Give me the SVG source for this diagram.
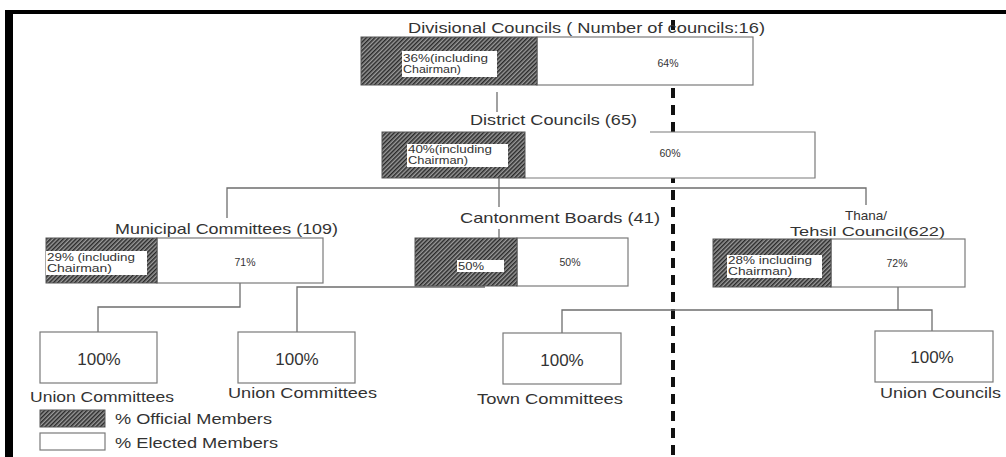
<svg xmlns="http://www.w3.org/2000/svg" width="1006" height="457" viewBox="0 0 1006 457">
<defs>
<pattern id="hatch" width="3" height="3" patternUnits="userSpaceOnUse" patternTransform="rotate(45)">
<rect width="3" height="3" fill="#9a9a9a"/>
<rect width="1.5" height="3" fill="#2a2a2a"/>
</pattern>
<style>
.box{fill:#fff;stroke:#7a7a7a;stroke-width:1.2}
.shade{fill:url(#hatch);stroke:#555;stroke-width:1}
.inner{fill:#fff}
.t{font-family:"Liberation Sans",Arial,sans-serif;fill:#333}
.title{font-size:15px}
.sm{font-size:10.5px}
.big{font-size:17px}
.lab{font-size:15px}
.conn{stroke:#6e6e6e;stroke-width:1.3;fill:none}
.div{stroke:#111;stroke-width:4;stroke-dasharray:10 7;fill:none}
</style>
</defs>
<rect width="1006" height="457" fill="#fff"/>
<g id="frame">
<rect x="5" y="10" width="1001" height="4" fill="#000"/>
<rect x="5" y="10" width="8" height="447" fill="#000"/>
</g>
<g id="divider">
<line class="div" x1="673" y1="20" x2="673" y2="457"/>
</g>
<g id="connectors">
<line class="conn" x1="497" y1="92" x2="497" y2="112"/>
<line class="conn" x1="499" y1="178" x2="499" y2="207"/>
<line class="conn" x1="499" y1="229" x2="499" y2="238"/>
<polyline class="conn" points="227,218 227,188 866,188 866,205"/>
<polyline class="conn" points="240,283 240,307 98,307 98,332"/>
<polyline class="conn" points="485,287 297,287 297,332"/>
<line class="conn" x1="898" y1="287" x2="898" y2="310"/>
<polyline class="conn" points="562,333 562,310 932,310 932,331"/>
</g>
<g id="divisional">
<text class="t title" x="408" y="33" textLength="357" lengthAdjust="spacingAndGlyphs">Divisional Councils ( Number of councils:16)</text>
<rect class="box" x="537" y="37" width="216" height="48"/>
<rect class="shade" x="361" y="37" width="176" height="48"/>
<rect class="inner" x="402" y="51" width="95" height="26"/>
<text class="t sm" x="403" y="62" textLength="85" lengthAdjust="spacingAndGlyphs">36%(including</text>
<text class="t sm" x="403" y="73" textLength="58" lengthAdjust="spacingAndGlyphs">Chairman)</text>
<text class="t sm" x="668" y="67" text-anchor="middle">64%</text>
</g>
<g id="district">
<text class="t title" x="470" y="125" textLength="167" lengthAdjust="spacingAndGlyphs">District Councils (65)</text>
<rect x="525" y="132" width="290" height="46" fill="#fff"/>
<path class="box" d="M650,132 H815 V178 H525"/>
<rect class="shade" x="382" y="132" width="143" height="46"/>
<rect class="inner" x="407" y="144" width="101" height="23"/>
<text class="t sm" x="408" y="153" textLength="84" lengthAdjust="spacingAndGlyphs">40%(including</text>
<text class="t sm" x="408" y="164" textLength="60" lengthAdjust="spacingAndGlyphs">Chairman)</text>
<text class="t sm" x="670" y="157" text-anchor="middle">60%</text>
</g>
<g id="municipal">
<text class="t title" x="115" y="234" textLength="223" lengthAdjust="spacingAndGlyphs">Municipal Committees (109)</text>
<rect class="box" x="157" y="238" width="166" height="45"/>
<rect class="shade" x="46" y="238" width="111" height="45"/>
<rect class="inner" x="46" y="251" width="101" height="24"/>
<text class="t sm" x="47" y="261" textLength="88" lengthAdjust="spacingAndGlyphs">29% (including</text>
<text class="t sm" x="47" y="272" textLength="65" lengthAdjust="spacingAndGlyphs">Chairman)</text>
<text class="t sm" x="245" y="266" text-anchor="middle">71%</text>
</g>
<g id="cantonment">
<text class="t title" x="460" y="223" textLength="200" lengthAdjust="spacingAndGlyphs">Cantonment Boards (41)</text>
<rect class="box" x="517" y="238" width="111" height="48"/>
<rect class="shade" x="415" y="238" width="102" height="48"/>
<rect class="inner" x="457" y="260" width="47" height="12"/>
<text class="t sm" x="458" y="270" textLength="26" lengthAdjust="spacingAndGlyphs">50%</text>
<text class="t sm" x="570" y="266" text-anchor="middle">50%</text>
</g>
<g id="thana">
<text class="t" font-size="13.5" x="866" y="220" text-anchor="middle">Thana/</text>
<text class="t" font-size="13.5" x="790" y="236" textLength="155" lengthAdjust="spacingAndGlyphs">Tehsil Council(622)</text>
<rect class="box" x="831" y="239" width="134" height="48"/>
<rect class="shade" x="713" y="239" width="118" height="48"/>
<rect class="inner" x="727" y="255" width="95" height="23"/>
<text class="t sm" x="728" y="264" textLength="84" lengthAdjust="spacingAndGlyphs">28% including</text>
<text class="t sm" x="728" y="275" textLength="64" lengthAdjust="spacingAndGlyphs">Chairman)</text>
<text class="t sm" x="897" y="267" text-anchor="middle">72%</text>
</g>
<g id="union-committees-1">
<rect class="box" x="40" y="332" width="117" height="51"/>
<text class="t big" x="99" y="365" text-anchor="middle">100%</text>
<text class="t lab" x="30" y="402" textLength="144" lengthAdjust="spacingAndGlyphs">Union Committees</text>
</g>
<g id="union-committees-2">
<rect class="box" x="238" y="332" width="117" height="51"/>
<text class="t big" x="297" y="365" text-anchor="middle">100%</text>
<text class="t lab" x="228" y="398" textLength="149" lengthAdjust="spacingAndGlyphs">Union Committees</text>
</g>
<g id="town-committees">
<rect class="box" x="503" y="333" width="118" height="51"/>
<text class="t big" x="562" y="366" text-anchor="middle">100%</text>
<text class="t lab" x="477" y="404" textLength="146" lengthAdjust="spacingAndGlyphs">Town Committees</text>
</g>
<g id="union-councils">
<rect class="box" x="875" y="331" width="118" height="51"/>
<text class="t big" x="932" y="363" text-anchor="middle">100%</text>
<text class="t lab" x="880" y="398" textLength="121" lengthAdjust="spacingAndGlyphs">Union Councils</text>
</g>
<g id="legend">
<rect class="shade" x="40" y="410" width="65" height="17"/>
<text class="t lab" x="115" y="424" textLength="157" lengthAdjust="spacingAndGlyphs">% Official Members</text>
<rect class="box" x="40" y="433" width="65" height="17"/>
<text class="t lab" x="115" y="448" textLength="163" lengthAdjust="spacingAndGlyphs">% Elected Members</text>
</g>
</svg>
